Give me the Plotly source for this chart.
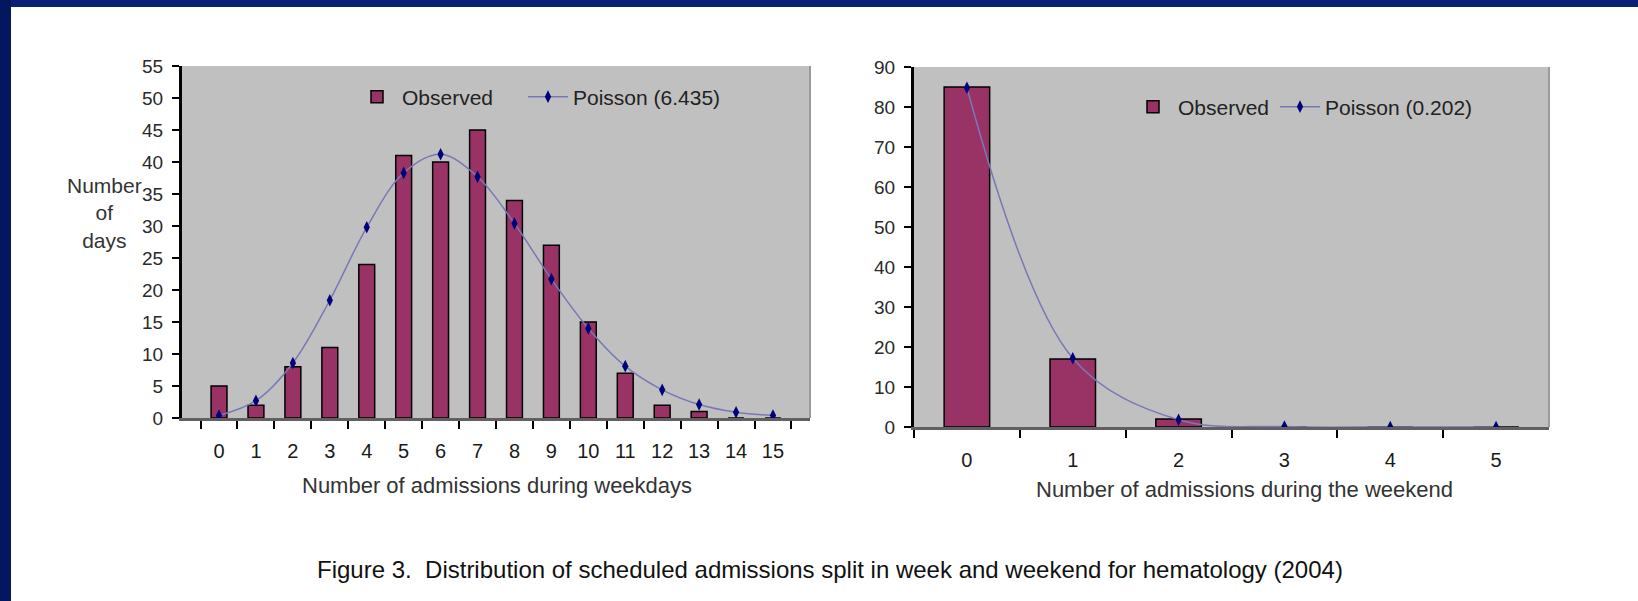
import plotly.graph_objects as go

# weekday admissions (left chart)
week_labels = ["0", "1", "2", "3", "4", "5", "6", "7", "8", "9", "10", "11", "12", "13", "14", "15"]
week_observed = [5, 2, 8, 11, 24, 41, 40, 45, 34, 27, 15, 7, 2, 1, 0, 0]
week_poisson = [0.4, 2.7, 8.6, 18.4, 29.8, 38.3, 41.2, 37.7, 30.4, 21.7, 14.0, 8.1, 4.4, 2.1, 0.9, 0.4]

# weekend admissions (right chart)
weekend_labels = ["0", "1", "2", "3", "4", "5"]
weekend_observed = [85, 17, 2, 0, 0, 0]
weekend_poisson = [84.8, 17.2, 1.8, 0.1, 0.0, 0.0]

FONT = "Liberation Sans, Arial, sans-serif"
BAR = "#993366"
LINE = "#7878b8"
MARK = "#00007a"
W, H = 1638, 601

fig = go.Figure()

fig.add_trace(go.Bar(x=week_labels, y=week_observed, name="Observed", legendwidth=116,
                     marker=dict(color=BAR, line=dict(color="black", width=1.5)),
                     xaxis="x", yaxis="y", legend="legend"))
fig.add_trace(go.Scatter(x=week_labels, y=week_poisson, name="Poisson (6.435)",
                         mode="lines+markers", line=dict(color=LINE, width=1.5, shape="spline"),
                         marker=dict(symbol="diamond-tall", size=9, color=MARK),
                         xaxis="x", yaxis="y", legend="legend"))

fig.add_trace(go.Bar(x=weekend_labels, y=weekend_observed, name="Observed", legendwidth=92,
                     marker=dict(color=BAR, line=dict(color="black", width=1.5)),
                     xaxis="x2", yaxis="y2", legend="legend2"))
fig.add_trace(go.Scatter(x=weekend_labels, y=weekend_poisson, name="Poisson (0.202)",
                         mode="lines+markers", line=dict(color=LINE, width=1.5, shape="spline"),
                         marker=dict(symbol="diamond-tall", size=9, color=MARK),
                         xaxis="x2", yaxis="y2", legend="legend2"))

def px(v):
    return v / W

def py(v):
    return 1 - v / H

xax = dict(type="category", tickson="boundaries", ticks="outside", ticklen=8, tickwidth=2,
           tickcolor="black", showline=True, linecolor="#606060", linewidth=3,
           tickfont=dict(family=FONT, size=20, color="#1a1a1a"), ticklabelstandoff=13,
           showgrid=False, zeroline=False, fixedrange=True, automargin=False)
yax = dict(ticks="outside", ticklen=7, tickwidth=2, tickcolor="black", showline=True,
           linecolor="black", linewidth=3, tickfont=dict(family=FONT, size=19, color="#2a2a2a"),
           ticklabelstandoff=5, showgrid=False, zeroline=False, fixedrange=True, automargin=False)

leg = dict(orientation="h", bgcolor="rgba(0,0,0,0)", font=dict(family=FONT, size=21, color="#222"),
           itemwidth=40, xanchor="left", yanchor="middle", traceorder="normal")

fig.update_layout(
    width=W, height=H,
    margin=dict(l=0, r=0, t=0, b=0, pad=0, autoexpand=False),
    paper_bgcolor="white", plot_bgcolor="#c0c0c0",
    bargap=0.57,
    xaxis=dict(xax, domain=[px(182), px(810)], anchor="y"),
    yaxis=dict(yax, domain=[py(418), py(66)], range=[0, 55], dtick=5, anchor="x"),
    xaxis2=dict(xax, domain=[px(914), px(1549)], anchor="y2"),
    yaxis2=dict(yax, domain=[py(427), py(67)], range=[0, 90], dtick=10, anchor="x2"),
    legend=dict(leg, x=px(352), y=py(97)),
    legend2=dict(leg, x=px(1128), y=py(107)),
    showlegend=True,
)

# navy slide frame
fig.add_shape(type="rect", xref="paper", yref="paper", x0=0, x1=1, y0=py(7), y1=1,
              fillcolor="#0a1f78", line_width=0, layer="above")
fig.add_shape(type="rect", xref="paper", yref="paper", x0=0, x1=px(11), y0=0, y1=1,
              fillcolor="#04175e", line_width=0, layer="above")

# plot-area right borders
for x1, y0, y1 in [(810, 418, 66), (1549, 427, 67)]:
    fig.add_shape(type="line", xref="paper", yref="paper", x0=px(x1), x1=px(x1), y0=py(y0), y1=py(y1),
                  line=dict(color="#9a9a9a", width=2))

ann_font = dict(family=FONT, size=22, color="#333")
fig.add_annotation(text="Number<br>of<br>days", xref="paper", yref="paper", x=px(104), y=py(213),
                   xanchor="center", yanchor="middle", showarrow=False,
                   font=dict(family=FONT, size=21, color="#333"), align="center")
fig.add_annotation(text="Number of admissions during weekdays", xref="paper", yref="paper",
                   x=px(497), y=py(486), xanchor="center", yanchor="middle", showarrow=False, font=ann_font)
fig.add_annotation(text="Number of admissions during the weekend", xref="paper", yref="paper",
                   x=px(1244), y=py(489), xanchor="center", yanchor="middle", showarrow=False, font=ann_font)
fig.add_annotation(text="Figure 3.  Distribution of scheduled admissions split in week and weekend for hematology (2004)",
                   xref="paper", yref="paper", x=px(830), y=py(569), xanchor="center", yanchor="middle",
                   showarrow=False, font=dict(family=FONT, size=24, color="#111"))

fig.write_html("out.html", config={"displayModeBar": False},
               post_script="document.body.style.margin='0';")
